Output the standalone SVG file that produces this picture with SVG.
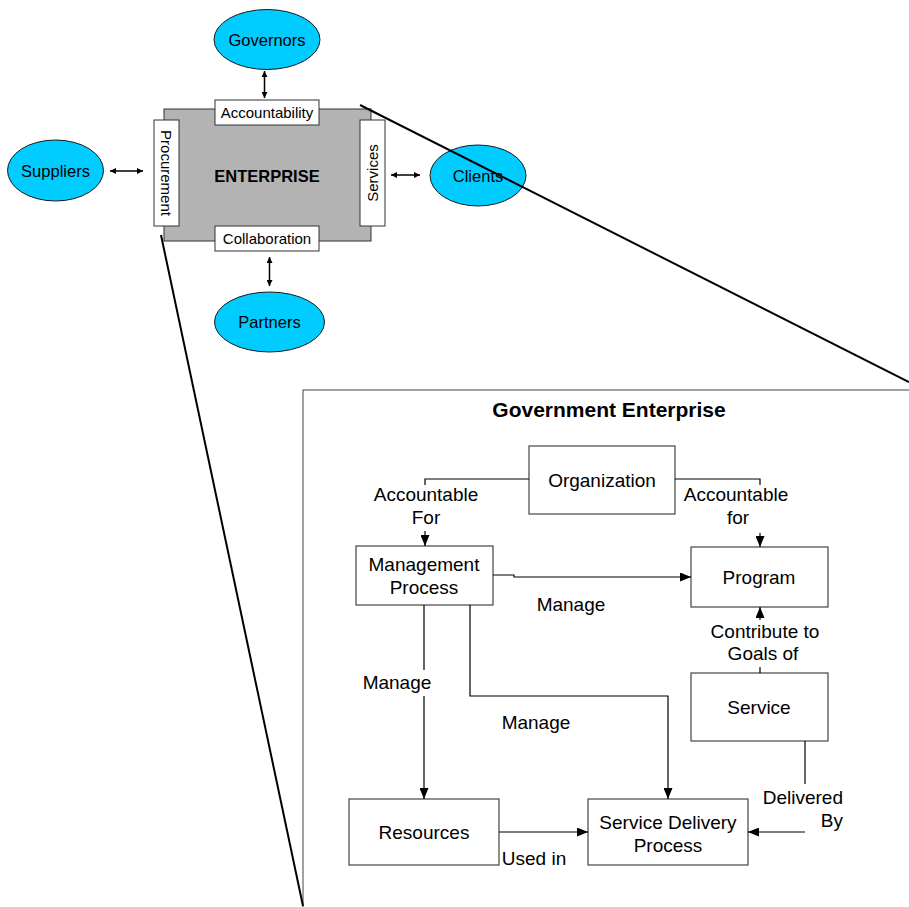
<svg xmlns="http://www.w3.org/2000/svg" width="909" height="907" viewBox="0 0 909 907">
  <style>
    text { font-family: "Liberation Sans", Arial, sans-serif; fill: #000; }
    .ell { fill: #00ccff; stroke: #1a1a1a; stroke-width: 1; }
    .tab { fill: #fff; stroke: #333; stroke-width: 1; }
    .box { fill: #fff; stroke: #444; stroke-width: 1.2; }
    .t15 { font-size: 15px; }
    .t16 { font-size: 16.5px; text-anchor: middle; }
    .t19 { font-size: 19px; text-anchor: middle; }
    .wire { fill: none; stroke: #000; stroke-width: 1.2; }
    .dbl { fill: none; stroke: #000; stroke-width: 1.5; marker-start: url(#sm); marker-end: url(#sm); }
    .zoom { fill: none; stroke: #000; stroke-width: 2; }
  </style>
  <defs>
    <marker id="ah" markerUnits="userSpaceOnUse" markerWidth="11" markerHeight="9" refX="11" refY="4.5" orient="auto">
      <path d="M0,0 L11,4.5 L0,9 z" fill="#000"/>
    </marker>
    <marker id="sm" markerUnits="userSpaceOnUse" markerWidth="6" markerHeight="6" refX="6" refY="3" orient="auto-start-reverse">
      <path d="M0,0 L6,3 L0,6 z" fill="#000"/>
    </marker>
  </defs>

  <!-- Enterprise context -->
  <g id="enterprise">
    <rect x="164" y="109" width="207" height="132" fill="#b3b3b3" stroke="#333" stroke-width="1"/>
    <text x="267" y="182" font-size="16.5" font-weight="bold" text-anchor="middle">ENTERPRISE</text>
  </g>
  <g id="accountability">
    <rect class="tab" x="215" y="100" width="104" height="25"/>
    <text class="t15" x="267" y="118" text-anchor="middle">Accountability</text>
  </g>
  <g id="collaboration">
    <rect class="tab" x="215" y="226" width="104" height="25"/>
    <text class="t15" x="267" y="244" text-anchor="middle">Collaboration</text>
  </g>
  <g id="procurement">
    <rect class="tab" x="154" y="120" width="25" height="106"/>
    <text class="t15" text-anchor="middle" transform="translate(161,173) rotate(90)">Procurement</text>
  </g>
  <g id="services">
    <rect class="tab" x="360" y="120" width="25" height="106"/>
    <text class="t15" text-anchor="middle" transform="translate(378,173) rotate(-90)">Services</text>
  </g>
  <g id="governors">
    <ellipse class="ell" cx="267" cy="39.5" rx="53" ry="30"/>
    <text class="t16" x="267" y="45.5">Governors</text>
  </g>
  <g id="suppliers">
    <ellipse class="ell" cx="55.5" cy="170.5" rx="48" ry="30.5"/>
    <text class="t16" x="55.5" y="176.5">Suppliers</text>
  </g>
  <g id="clients">
    <ellipse class="ell" cx="478" cy="175.5" rx="48" ry="30.5"/>
    <text class="t16" x="478" y="181.5">Clients</text>
  </g>
  <g id="partners">
    <ellipse class="ell" cx="269.5" cy="322" rx="55" ry="30"/>
    <text class="t16" x="269.5" y="328">Partners</text>
  </g>

  <!-- Government enterprise frame -->
  <g id="government-enterprise">
    <rect x="303" y="390" width="620" height="530" fill="none" stroke="#444" stroke-width="1"/>
    <text x="609" y="417" font-size="21" font-weight="bold" text-anchor="middle">Government Enterprise</text>
  </g>
  <g id="organization">
    <rect class="box" x="529" y="446" width="146" height="68"/>
    <text class="t19" x="602" y="487">Organization</text>
  </g>
  <g id="management-process">
    <rect class="box" x="356" y="546" width="137" height="59"/>
    <text class="t19" x="424" y="571">Management</text>
    <text class="t19" x="424" y="594">Process</text>
  </g>
  <g id="program">
    <rect class="box" x="691" y="547" width="137" height="60"/>
    <text class="t19" x="759" y="584">Program</text>
  </g>
  <g id="service">
    <rect class="box" x="691" y="673" width="137" height="68"/>
    <text class="t19" x="759" y="714">Service</text>
  </g>
  <g id="resources">
    <rect class="box" x="349" y="799" width="150" height="66"/>
    <text class="t19" x="424" y="839">Resources</text>
  </g>
  <g id="service-delivery-process">
    <rect class="box" x="588" y="799" width="160" height="66"/>
    <text class="t19" x="668" y="829">Service Delivery</text>
    <text class="t19" x="668" y="852">Process</text>
  </g>

  <!-- Connectors -->
  <g id="connectors">
    <line class="dbl" x1="264.5" y1="71" x2="264.5" y2="98"/>
    <line class="dbl" x1="110" y1="171" x2="143" y2="171"/>
    <line class="dbl" x1="391" y1="175" x2="420" y2="175"/>
    <line class="dbl" x1="269.5" y1="257" x2="269.5" y2="286"/>

    <polyline class="wire" points="529,479 425,479 425,485"/>
    <line class="wire" x1="425" y1="531" x2="425" y2="546" marker-end="url(#ah)"/>
    <polyline class="wire" points="675,479 760,479 760,485"/>
    <line class="wire" x1="760" y1="533" x2="760" y2="547" marker-end="url(#ah)"/>
    <polyline class="wire" points="493,575 514,575 514,577 691,577" marker-end="url(#ah)"/>
    <line class="wire" x1="760" y1="620" x2="760" y2="607" marker-end="url(#ah)"/>
    <line class="wire" x1="760" y1="667" x2="760" y2="673"/>
    <line class="wire" x1="805" y1="741" x2="805" y2="784"/>
    <line class="wire" x1="805" y1="832" x2="748" y2="832" marker-end="url(#ah)"/>
    <line class="wire" x1="424" y1="605" x2="424" y2="670"/>
    <line class="wire" x1="424" y1="696" x2="424" y2="799" marker-end="url(#ah)"/>
    <polyline class="wire" points="470,605 470,696 668,696 668,799" marker-end="url(#ah)"/>
    <line class="wire" x1="499" y1="832" x2="588" y2="832" marker-end="url(#ah)"/>

    <text class="t19" x="426" y="501">Accountable</text>
    <text class="t19" x="426" y="524">For</text>
    <text class="t19" x="736" y="501">Accountable</text>
    <text class="t19" x="738" y="524">for</text>
    <text class="t19" x="571" y="611">Manage</text>
    <text class="t19" x="765" y="638">Contribute to</text>
    <text class="t19" x="763" y="660">Goals of</text>
    <text class="t19" x="397" y="689">Manage</text>
    <text class="t19" x="536" y="729">Manage</text>
    <text class="t19" x="843" y="804" style="text-anchor:end">Delivered</text>
    <text class="t19" x="843" y="827" style="text-anchor:end">By</text>
    <text class="t19" x="534" y="865">Used in</text>

    <!-- magnification lines -->
    <line class="zoom" x1="360" y1="105" x2="909" y2="382"/>
    <line class="zoom" x1="161" y1="235" x2="303" y2="906"/>
  </g>
</svg>
